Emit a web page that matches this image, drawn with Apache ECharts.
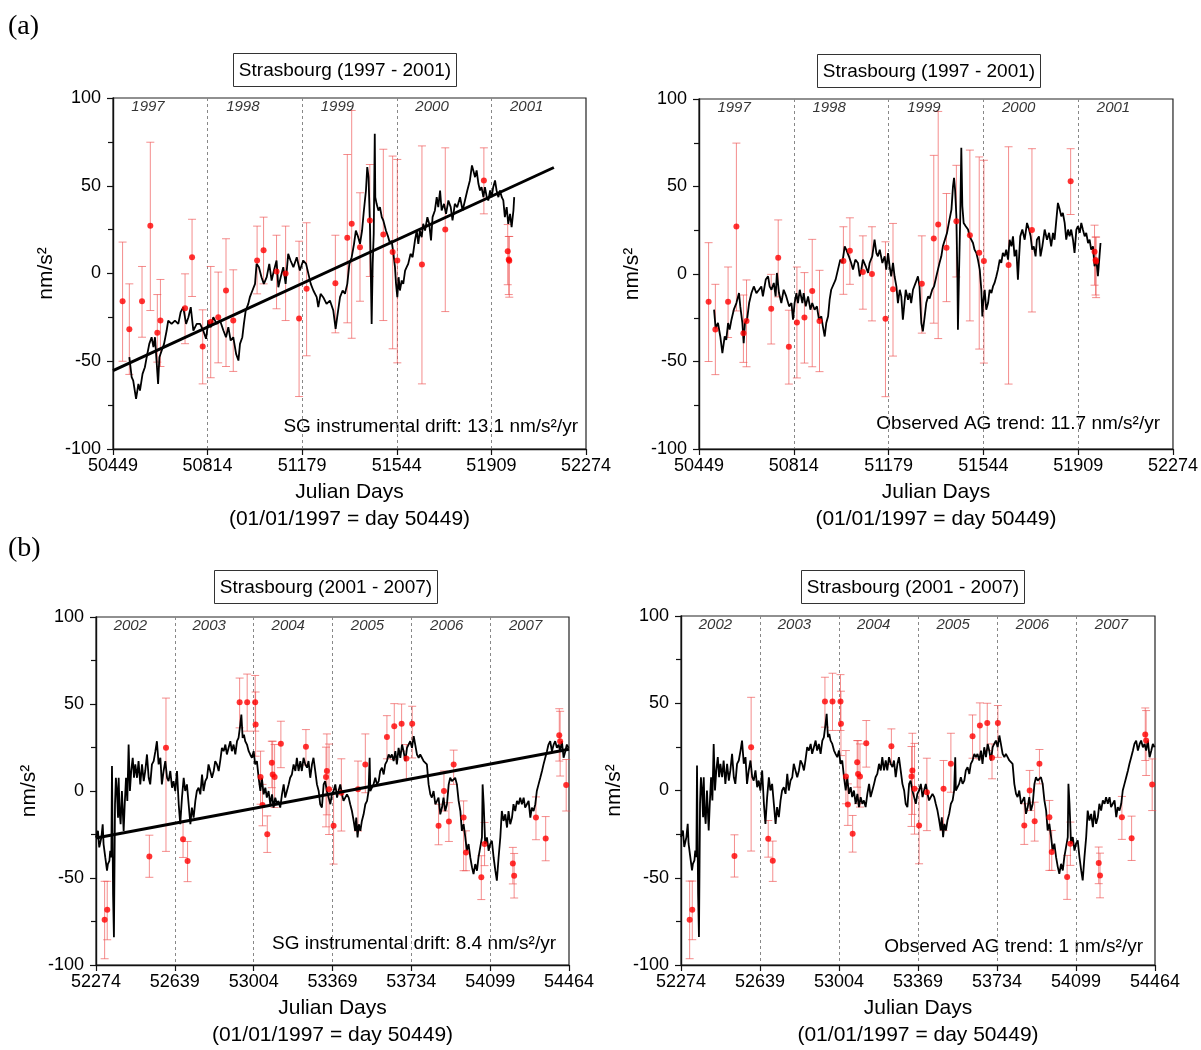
<!DOCTYPE html>
<html>
<head>
<meta charset="utf-8">
<script src="https://cdn.jsdelivr.net/npm/echarts@6/dist/echarts.min.js"></script>
<style>
  html, body { margin: 0; padding: 0; background: #fff; }
  #chart { width: 1201px; height: 1050px; }
</style>
</head>
<body>
<div id="chart"></div>
<script>
// ---- data: SG residuals 1997-2001 (panel a, left) ----
const sgDays1 = [50512,50521,50527,50538,50547,50553,50563,50572,50579,50589,50598,50605,50611,50617,50623,50628,50637,50646,50656,50662,50675,50688,50701,50710,50720,50731,50740,50749,50759,50772,50785,50797,50808,50817,50826,50836,50849,50862,50875,50885,50894,50903,50913,50924,50933,50939,50948,50954,50961,50971,50977,50987,50997,51003,51012,51022,51031,51042,51052,51061,51070,51080,51087,51096,51106,51115,51125,51134,51145,51158,51170,51183,51194,51203,51212,51222,51235,51241,51250,51260,51273,51286,51299,51308,51314,51325,51335,51344,51353,51361,51370,51379,51386,51395,51402,
  51410,51417,51425,51430,51435,51441,51444,51447,51451,51455,51459,51461,51466,51473,51479,51486,51492,51502,51511,51518,51524,51531,51537,51541,51546,51551,51556,51563,51569,51576,51582,51588,51597,51605,51614,51621,51627,51633,51640,51646,51653,51662,51669,51676,51682,51691,51698,51704,51711,51717,51726,51734,51743,51752,51759,51768,51777,51788,51798,51807,51816,51826,51834,51839,51846,51852,51859,51865,51871,51878,51884,51891,51897,51904,51910,51916,51923,51929,51936,51942,51949,51955,51961,51968,51974,51981,51987,51994,51997];
const sgVals1 = [-47.7,-59.1,-61,-71.5,-62.9,-66.7,-57.2,-53.4,-47.7,-40.1,-36.3,-42,-36.3,-49.6,-62.9,-47.7,-43.9,-40.1,-32.5,-26.8,-28.7,-26.8,-28.7,-22,-19.2,-28.7,-24.9,-19.2,-32.5,-28.7,-28.7,-32.5,-37.2,-26.8,-30.6,-24.9,-28.7,-26.8,-32.5,-36.3,-30.6,-38.2,-36.3,-45.8,-49.6,-40.1,-36.3,-28.7,-21.1,-17.3,-13.5,-9.7,-5.9,5.5,3.6,-2.1,-5.9,-2.1,5.5,-4,1.7,7.4,-7.8,-2.1,3.6,-5.9,11.2,7.4,3.6,9.3,1.7,7.4,5.5,-0.2,-5.9,-9.7,-13.5,-19.2,-11.6,-13.5,-17.3,-15.4,-21.1,-31.6,-24.9,-13.5,-9.7,-11.6,-5.9,5.5,9.3,16.9,24.5,20.7,16.9,
  24.5,35.9,47.3,60.6,54.9,24.5,-2.1,-28.7,5.5,22.6,79.6,43.5,39.7,35.9,37.8,32.1,30.2,24.5,20.7,16.9,18.8,11.2,3.6,-5.9,-13.5,-2.1,-9.7,-4,-5.9,1.7,3.6,5.5,11.2,9.3,18.8,24.5,16.9,24.5,20.7,28.3,24.5,32.1,28.3,18.8,32.1,35.9,43.5,37.8,47.3,35.9,39.7,34,41.6,37.8,30.2,39.7,37.8,43.5,35.9,41.6,47.3,53,61.6,60.6,54.9,58.7,51.1,47.3,49.2,43.5,49.2,43.5,41.6,47.3,43.5,49.2,53,47.3,43.5,47.3,43.5,41.6,32.1,37.8,28.3,34,26.4,35.9,43.5];

// ---- data: drift-corrected gravity 1997-2001 (panel a, right) ----
const sgDays2 = [50507,50513,50522,50531,50539,50548,50554,50561,50567,50574,50583,50593,50603,50608,50616,50621,50626,50634,50642,50651,50660,50670,50680,50689,50695,50706,50715,50721,50728,50737,50744,50749,50757,50766,50775,50785,50796,50805,50811,50817,50824,50830,50837,50847,50852,50860,50869,50878,50885,50894,50903,50911,50920,50926,50933,50939,50946,50952,50958,50965,50975,50984,50993,51001,51010,51016,51026,51035,51042,51051,51061,51068,51074,51080,51091,51100,51106,51116,51125,51132,51138,51145,51155,51164,51170,51177,51183,51189,51196,51202,51209,51215,51222,51228,51234,51245,51254,51260,51266,51273,51283,51292,51298,51305,51311,51318,51324,51331,51337,51347,51354,51363,51369,51375,51382,51388,51395,51404,51411,
  51421,51427,51431,51435,51440,51444,51446,51450,51455,51459,51463,51468,51476,51485,51491,51498,51504,51510,51517,51523,51530,51536,51540,51543,51549,51555,51562,51568,51575,51581,51587,51594,51600,51607,51613,51619,51626,51632,51639,51645,51652,51658,51664,51671,51677,51681,51686,51694,51703,51712,51720,51726,51732,51738,51745,51750,51758,51764,51771,51780,51789,51797,51805,51812,51818,51825,51831,51838,51844,51850,51857,51863,51870,51876,51882,51889,51895,51902,51908,51915,51921,51927,51934,51940,51947,51953,51959,51966,51972,51979,51985,51991,51995];
const sgVals2 = [-20.4,-30.9,-28,-35.7,-45.2,-35.7,-37.6,-28,-31.8,-26.1,-20.4,-16.6,-10.9,-18.5,-28,-39.5,-28,-26.1,-16.6,-10.9,-7.1,-10.9,-9,-7.1,-12.8,-3.2,-1.3,-7.1,-9,-5.1,-12.8,0.6,-10.9,-16.6,-9,-12.8,-18.5,-16.6,-26.1,-16.6,-10.9,-16.6,-9,-16.6,-10.9,-18.5,-12.8,-20.4,-16.6,-20.4,-18.5,-26.1,-24.2,-29.9,-35.7,-28,-24.2,-14.7,-9,-9,-3.2,2.5,8.2,6.3,15.8,13.9,10.1,6.3,2.5,8.2,6.3,-1.3,2.5,8.2,4.4,0.6,6.3,10.1,19.6,12,10.1,13.9,6.3,10.1,2.5,12,4.4,-1.3,6.3,-1.3,-7.1,-16.6,-9,-12.8,-26.1,-9,-14.7,-10.9,-16.6,-9,-5.1,-1.3,-7.1,-28,-32.8,-24.2,-16.6,-12.8,-14,-9,-7.1,-1.3,2.5,6.3,10.1,15.8,15.8,23.5,29.2,
  36.8,50.1,54.9,48.2,33,-1.3,-31.8,-1.3,33,72.1,38.7,29.2,27.3,25.4,21.5,21.5,17.7,13.9,12,8.2,2.5,-9,-24.2,-16.6,-9,-20.4,-16.6,-9,-10.9,-7.1,-5.1,-1.3,2.5,8.2,6.3,12,10.1,13.9,8.2,19.6,15.8,21.5,10.1,13.9,-3.2,8.2,21.5,25.4,19.6,29.2,25.4,21.5,13.9,15.8,10.1,19.6,21.5,10.1,15.8,25.4,19.6,23.5,15.8,23.5,19.6,31.1,40.6,36.8,33,34.9,29.2,19.6,25.4,21.5,25.4,19.6,12,25.4,27.3,23.5,29.2,25.4,21.5,23.5,17.7,19.6,13.9,15.8,4.4,8.2,-1.3,10.1,17.7];

// ---- data: SG residuals 2001-2007 (panel b, both sides) ----
const sgDays3 = [52274,52283,52289,52299,52305,52309,52317,52325,52329,52336,52340,52345,52348,52353,52357,52362,52366,52371,52376,52379,52383,52388,52394,52402,52407,52413,52419,52425,52431,52437,52444,52450,52456,52464,52471,52479,52487,52495,52502,52510,52518,52525,52533,52541,52549,52556,52564,52572,52579,52587,52595,52603,52610,52618,52626,52633,52641,52649,52657,52664,52672,52680,52687,52695,52703,52711,52718,52726,52734,52741,52749,52757,52765,52772,52780,52788,52795,52803,52811,52819,52826,52834,52842,52849,52857,52865,52873,52880,52888,52896,52903,52911,52919,52927,52934,52942,52947,52953,52959,52965,52973,52981,52988,52996,53004,53011,53019,53027,53035,53042,53050,53058,53065,53073,53081,53089,53096,53104,53112,53119,53127,53135,53143,53150,53158,53166,53173,53181,53189,53197,53204,53212,53220,53227,53235,53243,53251,53258,53266,53274,53281,53289,53297,53305,53312,53320,53328,53335,53343,53351,53359,53366,53374,
  53382,53390,53397,53405,53413,53420,53428,53436,53444,53451,53459,53467,53474,53479,53485,53491,53498,53505,53513,53521,53529,53536,53541,53544,53552,53559,53567,53575,53583,53590,53598,53606,53613,53621,53629,53637,53644,53652,53660,53667,53675,53683,53691,53698,53706,53714,53721,53729,53737,53745,53752,53760,53768,53775,53783,53791,53799,53806,53814,53822,53829,53837,53845,53853,53860,53868,53876,53883,53891,53899,53907,53914,53922,53930,53937,53945,53953,53961,53968,53976,53984,53991,53999,54007,54015,54022,54030,54038,54045,54053,54061,54064,54069,54076,54084,54092,54099,54107,54115,54123,54130,54138,54146,54153,54161,54169,54177,54184,54192,54200,54207,54215,54223,54231,54238,54246,54254,54261,54269,54277,54285,54292,54300,54308,54315,54323,54331,54339,54346,54354,54362,54369,54377,54385,54393,54400,54408,54416,54423,54431,54439,54447,54454,54462];
const sgVals3 = [-26.7,-22.9,-32.4,-26.7,-19.1,-30.5,-38.2,-45.8,-42,-40.1,-34.4,-38.2,14.3,-59.2,-84,-7.6,7.6,0,-15.3,7.6,-11.5,-19.1,0,-22.9,-7.6,7.6,-5.7,26.7,0,11.5,19.1,7.6,15.3,7.6,17.2,3.8,15.3,5.7,11.5,21,7.6,3.8,15.3,17.2,22.9,28.6,15.3,19.1,3.8,11.5,17.2,7.6,5.7,11.5,1.9,5.7,0,11.5,-7.6,-19.1,-3.8,7.6,0,3.8,-7.6,-19.1,-9.5,-15.3,-5.7,0,1.9,-1.9,9.5,0,5.7,7.6,15.3,11.5,7.6,11.5,17.2,15.3,11.5,17.2,24.8,22.9,26.7,21,24.8,28.6,22.9,26.7,21,28.6,30.5,38.2,43.9,30.5,32.4,28.6,26.7,22.9,21,19.1,22.9,15.3,17.2,7.6,0,7.6,-1.9,1.9,-3.8,0,-7.6,-1.9,-9.5,-3.8,-7.6,-5.7,-9.5,-1.9,3.8,-3.8,0,3.8,7.6,9.5,15.3,11.5,19.1,11.5,17.2,11.5,19.1,15.3,13.4,17.2,7.6,15.3,19.1,11.5,3.8,0,-7.6,-9.5,3.8,5.7,0,-3.8,-7.6,-1.9,0,
  3.8,-3.8,0,3.8,-1.9,-5.7,-3.8,-1.9,-3.8,-7.6,-11.5,-17.2,-22.9,-15.3,-26.7,-19.1,-22.9,-17.2,-13.4,-7.6,-5.7,0,19.1,0,0,3.8,7.6,3.8,5.7,11.5,13.4,9.5,15.3,17.2,21,19.1,21,17.2,22.9,15.3,24.8,19.1,26.7,22.9,17.2,24.8,26.7,28.6,24.8,31.5,26.7,21,19.1,21,19.1,17.2,17.2,15.3,3.8,-1.9,-3.8,0,-7.6,-5.7,-3.8,-13.4,-9.5,-3.8,-11.5,-7.6,3.8,7.6,5.7,5.7,7.6,3.8,-5.7,-11.5,-22.9,-19.1,-26.7,-34.4,-30.5,-38.2,-43.9,-47.7,-42,-45.8,-38.2,-38.2,-26.7,3.8,-7.6,-30.5,-26.7,-34.4,-30.5,-28.6,-38.2,-45.8,-51.5,-38.2,-26.7,-11.5,-17.2,-13.4,-21,-11.5,-19.1,-15.3,-7.6,-11.5,-5.7,-7.6,-3.8,-7.6,-3.8,-9.5,-7.6,-5.7,-15.3,-9.5,-11.5,-7.6,0,3.8,7.6,11.5,15.3,19.1,22.9,26.7,28.6,22.9,26.7,28.6,24.8,26.7,22.9,28.6,19.1,22.9,26.7,24.8];

// ---- absolute gravity (AG) measurements with error bars ----
const agDays1 = [50486,50512,50561,50593,50620,50632,50727,50754,50795,50826,50855,50885,50913,51005,51030,51080,51115,51167,51196,51307,51353,51370,51402,51440,51492,51528,51546,51641,51731,51880,51972,51976,51978];
const agVals1 = [-15.8,-31.7,-15.8,27.2,-33.8,-26.8,-19.8,9.3,-41.6,-27.7,-24.9,-9.7,-26.8,7.4,13.3,1.1,0,-25.6,-8.7,-5.5,20.3,28.3,15,30.2,22.2,12.2,7.4,5.1,25.1,53,12.7,8,7.2];
const agHigh1 = [17.9,-5.9,4,74.8,-12,-3.4,-0.2,30.9,-20.7,4,0.8,19.8,2.1,27,32.1,21.8,27,18.4,28.9,21.8,67.8,92.9,46,62.1,70.8,66.9,65,72.7,71.6,71.6,27.9,21.1,21.1];
const agLow1 = [-50,-57.5,-36.3,-21.1,-50.5,-53,-40,-13.1,-62.9,-59.4,-50.9,-53,-55.8,-11.6,-5.9,-20.1,-26.8,-70.1,-46.9,-33.8,-28.1,-36.9,-15.8,-1.7,-26.8,-42.9,-50.9,-62.9,-21.7,34,-6.4,-12,-13.5];

const agDays3 = [52314,52326,52521,52598,52677,52698,52939,52974,53011,53013,53036,53045,53067,53088,53092,53101,53130,53246,53339,53343,53353,53374,53410,53487,53521,53621,53655,53689,53711,53738,53860,53885,53908,53930,53976,53987,54058,54073,54204,54210,54311,54356,54419,54423,54451];
const agVals3 = [-74,-68.3,-37.6,24.8,-27.7,-40.3,51,51,51,38.2,8,-8,-24.8,16.2,9.5,8,27.1,25.4,8,11.5,1,-20,-1,1,15.3,31.1,37.2,38.7,18.7,38.7,-20,0,-17.6,15.3,-15.3,-35.3,-49.6,-30.5,-41.6,-48.7,-15.3,-27.3,32.1,28.6,3.4];
const agHigh3 = [-51.9,-51.9,-25.4,53.4,-17.2,-29,64.9,67.2,66.4,56.9,22.9,3.8,-14.3,28.6,28.6,26.7,40.1,35.3,25.2,32.8,27,1,18.5,17.2,32.8,43.3,50.2,50,26.7,48.7,-7.6,11.5,-6.7,23.5,-5.7,-22.9,-37.2,-18.1,-32.4,-35.9,-3.4,-14.7,47.3,45.8,18.1];
const agLow3 = [-96.4,-85.5,-49.6,-34.7,-38.2,-52.1,36.3,34.4,34.4,20,-7.6,-20,-35.3,1.9,-7.6,-9.5,13.4,14.9,-20.6,-13.7,-25,-42,-23,-23,-1,18.5,18.1,22.9,6.7,19,-30.9,-11.5,-29,3.8,-45.8,-45.8,-62.4,-42.9,-53.4,-61.5,-28,-40.1,17.2,8.6,-11.5];

// ---- fitted SG drift lines ----
const driftDays1 = [50449, 52150];
const driftVals1 = [-55.3, 60.4];
const driftDays3 = [52274, 54464];
const driftVals3 = [-27, 24];

// ---- axes / labels ----
const xTicks1 = [50449, 50814, 51179, 51544, 51909, 52274];
const xTicks3 = [52274, 52639, 53004, 53369, 53734, 54099, 54464];
const years1 = ['1997', '1998', '1999', '2000', '2001'];
const yearLabelDays1 = [50584, 50950, 51315, 51680, 52045];
const years3 = ['2002', '2003', '2004', '2005', '2006', '2007'];
const yearLabelDays3 = [52433, 52798, 53164, 53531, 53898, 54263];

const FONT = "'Liberation Sans', Arial, sans-serif";

function zip(a, b) { return a.map((d, i) => [d, b[i]]); }

function errorBar(params, api) {
  const top = api.coord([api.value(0), api.value(2)]);
  const bot = api.coord([api.value(0), api.value(1)]);
  const w = 4;
  const st = { stroke: 'rgba(238,80,80,0.65)', lineWidth: 1 };
  return {
    type: 'group',
    children: [
      { type: 'line', shape: { x1: top[0], y1: top[1], x2: bot[0], y2: bot[1] }, style: st },
      { type: 'line', shape: { x1: top[0] - w, y1: top[1], x2: top[0] + w, y2: top[1] }, style: st },
      { type: 'line', shape: { x1: bot[0] - w, y1: bot[1], x2: bot[0] + w, y2: bot[1] }, style: st }
    ]
  };
}

const panels = [
  { grid: { left: 113, top: 98, width: 473, height: 351 }, xmin: 50449, xmax: 52274, ticks: xTicks1,
    sgDays: sgDays1, sgVals: sgVals1, ag: [agDays1, agVals1, agHigh1, agLow1],
    drift: [driftDays1, driftVals1], years: years1, yearDays: yearLabelDays1 },
  { grid: { left: 699, top: 99, width: 474, height: 350 }, xmin: 50449, xmax: 52274, ticks: xTicks1,
    sgDays: sgDays2, sgVals: sgVals2, ag: [agDays1, agVals1, agHigh1, agLow1],
    drift: null, years: years1, yearDays: yearLabelDays1 },
  { grid: { left: 96, top: 617, width: 473, height: 350 }, xmin: 52274, xmax: 54464, ticks: xTicks3,
    sgDays: sgDays3, sgVals: sgVals3, ag: [agDays3, agVals3, agHigh3, agLow3],
    drift: [driftDays3, driftVals3], years: years3, yearDays: yearLabelDays3 },
  { grid: { left: 681, top: 616, width: 474, height: 350 }, xmin: 52274, xmax: 54464, ticks: xTicks3,
    sgDays: sgDays3, sgVals: sgVals3, ag: [agDays3, agVals3, agHigh3, agLow3],
    drift: null, years: years3, yearDays: yearLabelDays3 }
];

const grids = [], xAxes = [], yAxes = [], series = [];

panels.forEach((p, i) => {
  grids.push(Object.assign({ show: true, borderColor: '#222', borderWidth: 1.2 }, p.grid));

  xAxes.push({
    type: 'value', gridIndex: i, min: p.xmin, max: p.xmax,
    name: 'Julian Days\n(01/01/1997 = day 50449)',
    nameLocation: 'middle', nameGap: 30,
    nameTextStyle: { fontSize: 21, lineHeight: 27, color: '#000', fontFamily: FONT },
    axisLine: { onZero: false, lineStyle: { color: '#111', width: 1.4 } },
    axisTick: { customValues: p.ticks, length: 6, lineStyle: { color: '#111', width: 1.2 } },
    axisLabel: { customValues: p.ticks, fontSize: 18, color: '#000', margin: 8, fontFamily: FONT,
      formatter: v => String(v) },
    splitLine: { show: true, showMinLine: false, showMaxLine: false,
      lineStyle: { color: '#888', type: [3, 3], width: 1 } }
  });

  yAxes.push({
    type: 'value', gridIndex: i, min: -100, max: 100, interval: 50,
    name: 'nm/s²', nameLocation: 'middle', nameGap: 56, nameRotate: 90,
    nameTextStyle: { fontSize: 21, color: '#000', fontFamily: FONT },
    axisLine: { onZero: false, lineStyle: { color: '#111', width: 1.4 } },
    axisTick: { length: 6, lineStyle: { color: '#111', width: 1.2 } },
    minorTick: { show: true, splitNumber: 2, length: 5, lineStyle: { color: '#111', width: 1.2 } },
    axisLabel: { fontSize: 18, color: '#000', margin: 12, fontFamily: FONT },
    splitLine: { show: false }
  });

  const [d, v, hi, lo] = p.ag;

  series.push({
    type: 'custom', xAxisIndex: i, yAxisIndex: i, z: 2, silent: true,
    renderItem: errorBar, encode: { x: 0, y: [1, 2] },
    data: d.map((x, k) => [x, lo[k], hi[k]])
  });

  series.push({
    type: 'line', xAxisIndex: i, yAxisIndex: i, z: 3, silent: true,
    showSymbol: false, data: zip(p.sgDays, p.sgVals),
    lineStyle: { color: '#000', width: 1.8 }
  });

  series.push({
    type: 'scatter', xAxisIndex: i, yAxisIndex: i, z: 4, silent: true,
    symbolSize: 6, itemStyle: { color: '#f00' },
    data: zip(d, v)
  });

  if (p.drift) {
    series.push({
      type: 'line', xAxisIndex: i, yAxisIndex: i, z: 5, silent: true,
      showSymbol: false, data: zip(p.drift[0], p.drift[1]),
      lineStyle: { color: '#000', width: 3 }
    });
  }

  series.push({
    type: 'scatter', xAxisIndex: i, yAxisIndex: i, z: 6, silent: true,
    symbolSize: 1, itemStyle: { color: 'rgba(0,0,0,0)' },
    data: p.yearDays.map((x, k) => ({ value: [x, 95], name: p.years[k] })),
    label: { show: true, position: 'inside', formatter: '{b}', fontStyle: 'italic',
      fontSize: 15, color: '#000', fontFamily: FONT }
  });
});

const titleStyle = { fontSize: 19, fontWeight: 'normal', color: '#000', fontFamily: FONT };
const titles = [
  { text: 'Strasbourg (1997 - 2001)', left: 339, top: 53 },
  { text: 'Strasbourg (1997 - 2001)', left: 923, top: 54 },
  { text: 'Strasbourg (2001 - 2007)', left: 320, top: 570 },
  { text: 'Strasbourg (2001 - 2007)', left: 907, top: 570 }
].map(t => Object.assign(t, {
  textAlign: 'center', borderColor: '#333', borderWidth: 1,
  padding: [8, 6, 7, 6], textStyle: titleStyle
}));

function note(text, x, y) {
  return { type: 'text', x: x, y: y, silent: true,
    style: { text: text, align: 'right', verticalAlign: 'middle',
      fontSize: 19, fontFamily: FONT, fill: '#000' } };
}
function tag(text, y) {
  return { type: 'text', x: 8, y: y, silent: true,
    style: { text: text, verticalAlign: 'middle', fontSize: 28,
      fontFamily: "'Liberation Serif', 'Times New Roman', serif", fill: '#000' } };
}

const chart = echarts.init(document.getElementById('chart'), null, { renderer: 'canvas' });
chart.setOption({
  animation: false,
  backgroundColor: '#fff',
  title: titles,
  grid: grids,
  xAxis: xAxes,
  yAxis: yAxes,
  series: series,
  graphic: [
    tag('(a)', 27),
    tag('(b)', 549),
    note('SG instrumental drift: 13.1 nm/s²/yr', 578, 427),
    note('Observed AG trend: 11.7 nm/s²/yr', 1160, 424),
    note('SG instrumental drift: 8.4 nm/s²/yr', 556, 944),
    note('Observed AG trend: 1 nm/s²/yr', 1143, 947)
  ]
});
</script>
</body>
</html>
